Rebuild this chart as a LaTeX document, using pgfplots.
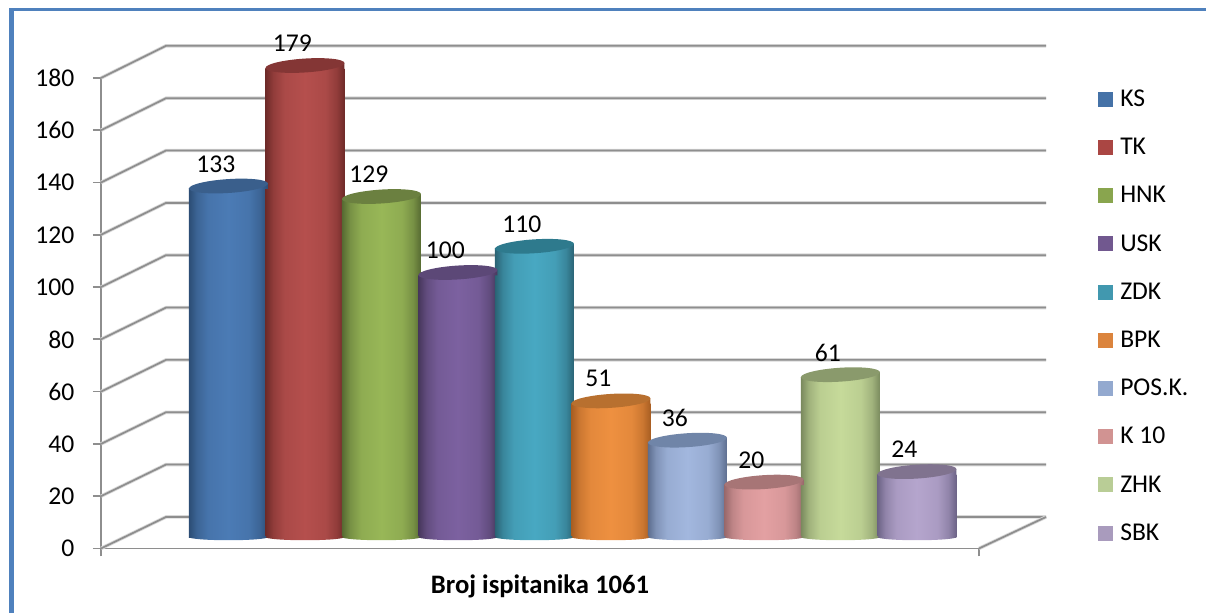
\documentclass[border=0pt]{standalone}
\usepackage{pgfplots}
\pgfplotsset{compat=1.18}
\usepackage{fontspec}
\setmainfont{Carlito}
\definecolor{gridc}{HTML}{8E8E8E}
\definecolor{gridl}{HTML}{D8D8D8}
\definecolor{framec}{HTML}{4F81BD}
\newcommand\defcyl[5]{%
  \definecolor{c#1}{HTML}{#2}\definecolor{e#1}{HTML}{#3}\definecolor{t#1}{HTML}{#4}\definecolor{l#1}{HTML}{#5}%
  \colorlet{m#1}{c#1!50!e#1}\colorlet{n#1}{c#1!85!e#1}%
  \pgfdeclarehorizontalshading{cyl#1}{100bp}{color(0bp)=(e#1); color(25bp)=(e#1); color(30bp)=(m#1); color(37bp)=(n#1); color(50bp)=(c#1); color(63bp)=(n#1); color(70bp)=(m#1); color(75bp)=(e#1); color(100bp)=(e#1)}%
  \pgfdeclareplotmark{bot#1}{\pgfpathellipse{\pgfpoint{0pt}{-1.9pt}}{\pgfpoint{29.6pt}{0pt}}{\pgfpoint{0pt}{2.4pt}}\pgfshadepath{cyl#1}{0}\pgfusepath{discard}}%
  \pgfdeclareplotmark{top#1}{%
    \pgfpathmoveto{\pgfpoint{-29.6pt}{-1.9pt}}\pgfpathlineto{\pgfpoint{29.6pt}{1.9pt}}\pgfpathlineto{\pgfpoint{29.6pt}{-2.2pt}}\pgfpathlineto{\pgfpoint{-29.6pt}{-2.2pt}}\pgfpathclose
    \pgfshadepath{cyl#1}{0}\pgfusepath{discard}%
    \pgfsetfillcolor{t#1}\pgfpathellipse{\pgfpointorigin}{\pgfpoint{29.6pt}{1.9pt}}{\pgfpoint{-0.3pt}{5.2pt}}\pgfusepathqfill}%
}
\defcyl{KS}{4B7BB5}{2C4D75}{3A5F8C}{4572A7}
\defcyl{TK}{B54F4D}{6E2A28}{843635}{AA4643}
\defcyl{HNK}{98B757}{566A32}{6B8040}{89A54E}
\defcyl{USK}{7C61A0}{47375C}{5C4877}{71588F}
\defcyl{ZDK}{48A8C2}{2A6374}{2E7A8D}{4198AF}
\defcyl{BPK}{EE9040}{A85E22}{B8702F}{DB843D}
\defcyl{POS}{A2B7DE}{5D6E8F}{7085A8}{93A9CF}
\defcyl{KTEN}{E3A0A2}{99696B}{A77576}{D19392}
\defcyl{ZHK}{C6DA9A}{7A8A5E}{8A9A6C}{B9CD96}
\defcyl{SBK}{B5A5CD}{6C6386}{80738F}{A99BBD}
\newcommand\cyl[3]{%
  \addplot[forget plot,only marks,mark=bot#1] coordinates {(#2,0)};
  \addplot[forget plot,ybar,bar width=59.25pt,bar shift=0pt,draw=none,shading=cyl#1,yshift=-1.9pt] coordinates {(#2,#3)};
  \addplot[forget plot,only marks,mark=top#1,point meta=y,nodes near coords,
    every node near coord/.style={anchor=center,xshift=-9.4pt,yshift=16.6pt,text=black,font=\fontsize{19.2}{20}\selectfont}] coordinates {(#2,#3)};
}
\newcommand\legitem[2]{%
  \addlegendimage{legend image code/.code={\path[draw=none,fill=none] (0pt,-5.6pt) rectangle (16.5pt,5.6pt);\fill[l#1,draw=none] (0pt,-5.6pt) rectangle (11.25pt,5.6pt);}}
  \addlegendentry{#2}
}
\pgfplotsset{wallstyle/.style={gridc,line width=1.3pt,no marks,forget plot,preaction={draw,gridl,line width=2.6pt}}}
\begin{document}
\begin{tikzpicture}
\path[use as bounding box] (0,0) rectangle (904.5pt,459.75pt);
\fill[framec] (6.75pt,0pt) rectangle (10.5pt,453.75pt);
\fill[framec] (6.75pt,451.5pt) rectangle (904.5pt,453.75pt);
\begin{axis}[
  scale only axis, width=658.5pt, height=352.875pt,
  at={(75.75pt,48.4pt)}, anchor=south west,
  xmin=101, xmax=979, ymin=0, ymax=180,
  clip=false,
  axis x line=bottom, axis y line=left,
  axis line style={-,gridc,line width=1.3pt},
  tick style={gridc,line width=1.3pt},
  tick align=outside, major tick length=6pt,
  xtick={101,979}, xticklabels={},
  ytick={0,20,...,180},
  /pgf/number format/assume math mode=true,
  ticklabel style={font=\fontsize{19.2}{20}\selectfont},
  yticklabel style={xshift=-10.5pt},
  xlabel={\textbf{Broj ispitanika 1061}},
  xlabel style={at={(axis description cs:0.5,-0.081)},anchor=center,font=\fontsize{20}{22}\selectfont},
]
\addplot[wallstyle] coordinates {(101,0) (166,12.05) (1046,12.05)};
\addplot[wallstyle] coordinates {(101,20) (166,32.1) (1046,32.1)};
\addplot[wallstyle] coordinates {(101,40) (166,52.1) (1046,52.1)};
\addplot[wallstyle] coordinates {(101,60) (166,72.15) (1046,72.15)};
\addplot[wallstyle] coordinates {(101,80) (166,92.15) (1046,92.15)};
\addplot[wallstyle] coordinates {(101,100) (166,112.2) (1046,112.2)};
\addplot[wallstyle] coordinates {(101,120) (166,132.2) (1046,132.2)};
\addplot[wallstyle] coordinates {(101,140) (166,152.25) (1046,152.25)};
\addplot[wallstyle] coordinates {(101,160) (166,172.25) (1046,172.25)};
\addplot[wallstyle] coordinates {(101,180) (166,192.3) (1046,192.3)};
\addplot[wallstyle] coordinates {(979,0) (1046,12.05)};
\end{axis}
\begin{axis}[
  scale only axis,
  x=57.375pt, y=1.965pt,
  at={(142.65pt,58.875pt)}, anchor=south west,
  xmin=-0.5, xmax=9.5, ymin=0, ymax=180,
  clip=false, hide axis,
  /pgf/number format/assume math mode=true,
  legend style={draw=none,fill=none,at={(1.187,0.463)},anchor=west,inner sep=0pt,outer sep=0pt,
    font=\fontsize{19.2}{20}\selectfont,
    row sep=22pt,
    nodes={inner sep=0pt,text height=12.5pt,text depth=1.65pt}},
  legend cell align=left,
]
\legitem{KS}{KS}
\legitem{TK}{TK}
\legitem{HNK}{HNK}
\legitem{USK}{USK}
\legitem{ZDK}{ZDK}
\legitem{BPK}{BPK}
\legitem{POS}{POS.K.}
\legitem{KTEN}{K 10}
\legitem{ZHK}{ZHK}
\legitem{SBK}{SBK}
\cyl{KS}{0}{133}
\cyl{TK}{1}{179}
\cyl{HNK}{2}{129}
\cyl{USK}{3}{100}
\cyl{ZDK}{4}{110}
\cyl{BPK}{5}{51}
\cyl{POS}{6}{36}
\cyl{KTEN}{7}{20}
\cyl{ZHK}{8}{61}
\cyl{SBK}{9}{24}
\end{axis}
\end{tikzpicture}
\end{document}
